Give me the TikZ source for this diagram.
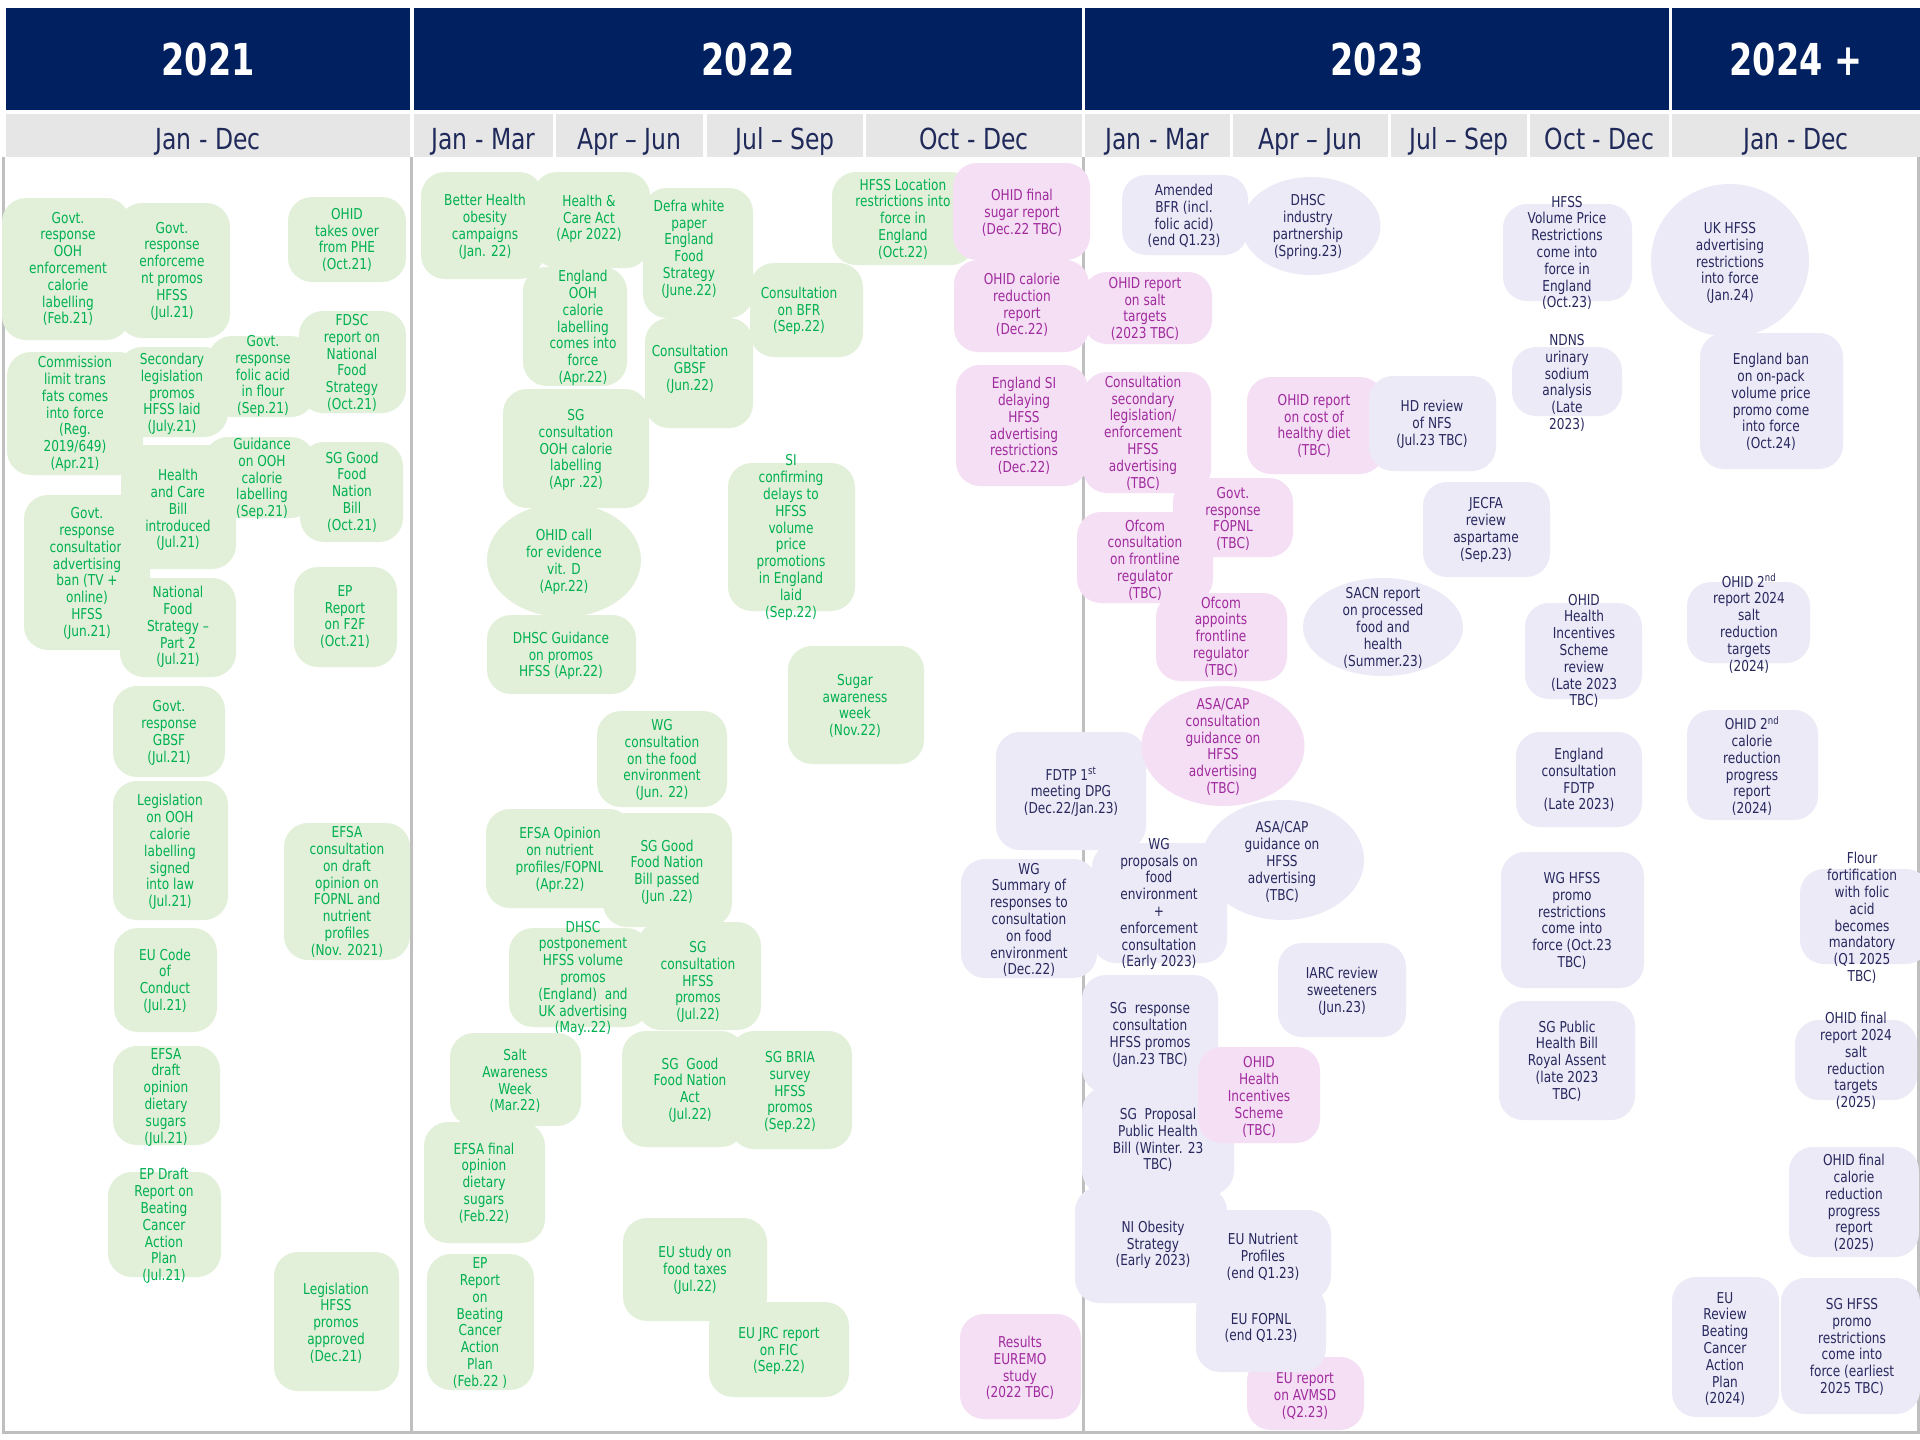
\documentclass[tikz,border=0pt]{standalone}
\usepackage{fontspec}
\setmainfont[FakeStretch=0.81]{DejaVu Sans}
\newfontfamily\hdrfont[FakeStretch=0.76]{DejaVu Sans}
\usetikzlibrary{shapes.geometric}
\definecolor{navy}{HTML}{002060}
\definecolor{hgray}{HTML}{E7E6E6}
\definecolor{sgray}{HTML}{BFBFBF}
\definecolor{subtxt}{HTML}{1F2A5A}
\definecolor{gfill}{HTML}{E2F0D9}
\definecolor{gtext}{HTML}{00B050}
\definecolor{pfill}{HTML}{F5DFF4}
\definecolor{ptext}{HTML}{A02B9E}
\definecolor{lfill}{HTML}{ECEAF7}
\definecolor{ltext}{HTML}{28285E}
\newcommand\evbox[6]{\node[#1, minimum width=#5pt, minimum height=#6pt] (#2) at (#3,#4) {};}
\newcommand\evtxt[5]{\node[#1] (#2) at (#3,#4) {#5};}
\begin{document}
\begin{tikzpicture}[x=1pt, y=-1pt,
  gbox/.style={rectangle, rounded corners=24pt, fill=gfill, inner sep=0pt},
  pbox/.style={rectangle, rounded corners=24pt, fill=pfill, inner sep=0pt},
  lbox/.style={rectangle, rounded corners=24pt, fill=lfill, inner sep=0pt},
  gell/.style={ellipse, fill=gfill, inner sep=0pt},
  pell/.style={ellipse, fill=pfill, inner sep=0pt},
  lell/.style={ellipse, fill=lfill, inner sep=0pt},
  txt/.style={align=center, inner sep=0pt, font=\fontsize{15}{16.8}\selectfont},
  gtxt/.style={txt, text=gtext},
  ptxt/.style={txt, text=ptext},
  ltxt/.style={txt, text=ltext},
  yhdr/.style={rectangle, fill=navy, text=white, inner sep=0pt, minimum height=102pt, font=\hdrfont\bfseries\fontsize{44}{50}\selectfont},
  qhdr/.style={rectangle, fill=hgray, text=subtxt, inner sep=0pt, minimum height=43pt, text height=34pt, text depth=6.8pt, font=\fontsize{29}{32}\selectfont},
  sepline/.style={draw=sgray, line width=3pt}
]
\useasboundingbox (0,0) rectangle (1920,1440);
\clip (0,0) rectangle (1920,1440);
\fill[white] (0,0) rectangle (1920,1440);

% ---------- headers ----------
\node[yhdr, minimum width=404pt] (y2021) at (208,59) {2021};
\node[yhdr, minimum width=668pt] (y2022) at (748,59) {2022};
\node[yhdr, minimum width=584pt] (y2023) at (1377,59) {2023};
\node[yhdr, minimum width=248pt] (y2024) at (1796,59) {2024 +};

\node[qhdr, minimum width=404pt] (q21) at (208,135.5) {Jan - Dec};
\node[qhdr, minimum width=139pt] (q221) at (483.5,135.5) {Jan - Mar};
\node[qhdr, minimum width=147pt] (q222) at (629.5,135.5) {Apr – Jun};
\node[qhdr, minimum width=156pt] (q223) at (785,135.5) {Jul – Sep};
\node[qhdr, minimum width=216pt] (q224) at (974,135.5) {Oct - Dec};
\node[qhdr, minimum width=145pt] (q231) at (1157.5,135.5) {Jan - Mar};
\node[qhdr, minimum width=155pt] (q232) at (1310.5,135.5) {Apr – Jun};
\node[qhdr, minimum width=136pt] (q233) at (1459,135.5) {Jul – Sep};
\node[qhdr, minimum width=139pt] (q234) at (1599.5,135.5) {Oct - Dec};
\node[qhdr, minimum width=248pt] (q24) at (1796,135.5) {Jan - Dec};

% ---------- frame lines ----------
\draw[sepline] (3.5,157) -- (3.5,1432) -- (1918.5,1432) -- (1918.5,157);
\draw[sepline] (411.5,157) -- (411.5,1432);
\draw[sepline] (1083.5,157) -- (1083.5,1432);

% ---------- 2021 ----------
\evbox{gbox}{b2}{174}{270.5}{112}{135}
\evtxt{gtxt}{t2}{172}{271}{Govt.\\response\\enforceme\\nt promos\\HFSS\\(Jul.21)}
\evbox{gbox}{b1}{66}{269}{128}{142}
\evtxt{gtxt}{t1}{68}{269}{Govt.\\response\\OOH\\enforcement\\calorie\\labelling\\(Feb.21)}
\evbox{gbox}{b3}{347}{239.5}{118}{85}
\evtxt{gtxt}{t3}{347}{240}{OHID\\takes over\\from PHE\\(Oct.21)}
\evbox{gbox}{b6}{75}{413.5}{136}{123}
\evtxt{gtxt}{t6}{75}{414}{Commission\\limit trans\\fats comes\\into force\\(Reg.\\2019/649)\\(Apr.21)}
\evbox{gbox}{b7}{173}{392}{110}{90}
\evtxt{gtxt}{t7}{172}{394}{Secondary\\legislation\\promos\\HFSS laid\\(July.21)}
\evbox{gbox}{b5}{261.5}{376.5}{107}{81}
\evtxt{gtxt}{t5}{263}{376}{Govt.\\response\\folic acid\\in flour\\(Sep.21)}
\evbox{gbox}{b4}{352.5}{362}{107}{102}
\evtxt{gtxt}{t4}{352}{363}{FDSC\\report on\\National\\Food\\Strategy\\(Oct.21)}
\evbox{gbox}{b11}{87}{572.5}{126}{155}
\evtxt{gtxt}{t11}{87}{573.5}{Govt.\\response\\consultation\\advertising\\ban (TV +\\online)\\HFSS\\(Jun.21)}
\evbox{gbox}{b10}{178.5}{507}{115}{124}
\evtxt{gtxt}{t10}{178}{510}{Health\\and Care\\Bill\\introduced\\(Jul.21)}
\evbox{gbox}{b8}{259.5}{477.5}{111}{81}
\evtxt{gtxt}{t8}{262}{479}{Guidance\\on OOH\\calorie\\labelling\\(Sep.21)}
\evbox{gbox}{b9}{351.5}{492}{103}{100}
\evtxt{gtxt}{t9}{352}{492}{SG Good\\Food\\Nation\\Bill\\(Oct.21)}
\evbox{gbox}{b12}{178}{627.5}{116}{99}
\evtxt{gtxt}{t12}{178}{627}{National\\Food\\Strategy –\\Part 2\\(Jul.21)}
\evbox{gbox}{b13}{345.5}{617}{103}{100}
\evtxt{gtxt}{t13}{345}{617}{EP\\Report\\on F2F\\(Oct.21)}
\evbox{gbox}{b14}{169}{731.5}{112}{91}
\evtxt{gtxt}{t14}{169}{733}{Govt.\\response\\GBSF\\(Jul.21)}
\evbox{gbox}{b15}{170.5}{850.5}{115}{139}
\evtxt{gtxt}{t15}{170}{852}{Legislation\\on OOH\\calorie\\labelling\\signed\\into law\\(Jul.21)}
\evbox{gbox}{b16}{347}{891.5}{126}{137}
\evtxt{gtxt}{t16}{347}{892}{EFSA\\consultation\\on draft\\opinion on\\FOPNL and\\nutrient\\profiles\\(Nov. 2021)}
\evbox{gbox}{b17}{165.5}{980}{103}{104}
\evtxt{gtxt}{t17}{165}{981}{EU Code\\of\\Conduct\\(Jul.21)}
\evbox{gbox}{b18}{166.5}{1095.5}{107}{99}
\evtxt{gtxt}{t18}{166}{1097}{EFSA\\draft\\opinion\\dietary\\sugars\\(Jul.21)}
\evbox{gbox}{b19}{164.5}{1224.5}{113}{105}
\evtxt{gtxt}{t19}{164}{1226}{EP Draft\\Report on\\Beating\\Cancer\\Action\\Plan\\(Jul.21)}
\evbox{gbox}{b20}{336.5}{1321.5}{125}{139}
\evtxt{gtxt}{t20}{336}{1323}{Legislation\\HFSS\\promos\\approved\\(Dec.21)}

% ---------- 2022 ----------
\evbox{gbox}{c2}{591.5}{220}{117}{96}
\evtxt{gtxt}{u2}{589}{219}{Health \&\\Care Act\\(Apr 2022)}
\evbox{gbox}{c3}{575}{326.5}{104}{119}
\evtxt{gtxt}{u3}{583}{328}{England\\OOH\\calorie\\labelling\\comes into\\force\\(Apr.22)}
\evbox{gbox}{c1}{482}{225.5}{122}{107}
\evtxt{gtxt}{u1}{485}{227}{Better Health\\obesity\\campaigns\\(Jan. 22)}
\evbox{gbox}{c4}{698}{253}{110}{130}
\evtxt{gtxt}{u4}{689}{249}{Defra white\\paper\\England\\Food\\Strategy\\(June.22)}
\evbox{gbox}{c5}{699}{373}{108}{110}
\evtxt{gtxt}{u5}{690}{369}{Consultation\\GBSF\\(Jun.22)}
\evbox{gbox}{c6}{806.5}{310}{113}{94}
\evtxt{gtxt}{u6}{799}{311}{Consultation\\on BFR\\(Sep.22)}
\evbox{gbox}{c24}{903.5}{218.5}{143}{93}
\evtxt{gtxt}{u24}{903}{219}{HFSS Location\\restrictions into\\force in\\England\\(Oct.22)}
\evbox{gbox}{c7}{576}{448.5}{146}{119}
\evtxt{gtxt}{u7}{576}{450}{SG\\consultation\\OOH calorie\\labelling\\(Apr .22)}
\evbox{gell}{c8}{564}{560}{154}{114}
\evtxt{gtxt}{u8}{564}{562}{OHID call\\for evidence\\vit. D\\(Apr.22)}
\evbox{gbox}{c9}{791.5}{537}{127}{148}
\evtxt{gtxt}{u9}{791}{537.5}{SI\\confirming\\delays to\\HFSS\\volume\\price\\promotions\\in England\\laid\\(Sep.22)}
\evbox{gbox}{c10}{561.5}{654.5}{149}{79}
\evtxt{gtxt}{u10}{561}{656}{DHSC Guidance\\on promos\\HFSS (Apr.22)}
\evbox{gbox}{c11}{856}{705}{136}{118}
\evtxt{gtxt}{u11}{855}{706}{Sugar\\awareness\\week\\(Nov.22)}
\evbox{gbox}{c12}{662}{759}{130}{96}
\evtxt{gtxt}{u12}{662}{760}{WG\\consultation\\on the food\\environment\\(Jun. 22)}
\evbox{gbox}{c13}{559.5}{858.5}{147}{99}
\evtxt{gtxt}{u13}{560}{860}{EFSA Opinion\\on nutrient\\profiles/FOPNL\\(Apr.22)}
\evbox{gbox}{c14}{667.5}{870}{129}{114}
\evtxt{gtxt}{u14}{667}{872}{SG Good\\Food Nation\\Bill passed\\(Jun .22)}
\evbox{gbox}{c15}{579.5}{977.5}{141}{99}
\evtxt{gtxt}{u15}{583}{978.5}{DHSC\\postponement\\HFSS volume\\promos\\(England)~ and\\UK advertising\\(May..22)}
\evbox{gbox}{c16}{699}{976}{124}{108}
\evtxt{gtxt}{u16}{698}{982}{SG\\consultation\\HFSS\\promos\\(Jul.22)}
\evbox{gbox}{c17}{515.5}{1079.5}{131}{93}
\evtxt{gtxt}{u17}{515}{1081}{Salt\\Awareness\\Week\\(Mar.22)}
\evbox{gbox}{c18}{683.5}{1089}{123}{116}
\evtxt{gtxt}{u18}{690}{1090}{SG~ Good\\Food Nation\\Act\\(Jul.22)}
\evbox{gbox}{c19}{791}{1090}{122}{118}
\evtxt{gtxt}{u19}{790}{1092}{SG BRIA\\survey\\HFSS\\promos\\(Sep.22)}
\evbox{gbox}{c20}{484.5}{1182.5}{121}{121}
\evtxt{gtxt}{u20}{484}{1183}{EFSA final\\opinion\\dietary\\sugars\\(Feb.22)}
\evbox{gbox}{c21}{480.5}{1322}{107}{136}
\evtxt{gtxt}{u21}{480}{1323}{EP\\Report\\on\\Beating\\Cancer\\Action\\Plan\\(Feb.22 )}
\evbox{gbox}{c22}{695}{1269.5}{144}{103}
\evtxt{gtxt}{u22}{695}{1270}{EU study on\\food taxes\\(Jul.22)}
\evbox{gbox}{c23}{779}{1349.5}{140}{95}
\evtxt{gtxt}{u23}{779}{1351}{EU JRC report\\on FIC\\(Sep.22)}

% ---------- Oct-Dec 2022 pink / lavender ----------
\evbox{pbox}{p1}{1021.5}{211.5}{137}{97}
\evtxt{ptxt}{r1}{1022}{213}{OHID final\\sugar report\\(Dec.22 TBC)}
\evbox{pbox}{p2}{1021.5}{306}{135}{92}
\evtxt{ptxt}{r2}{1022}{305}{OHID calorie\\reduction\\report\\(Dec.22)}
\evbox{pbox}{p3}{1022}{425.5}{132}{121}
\evtxt{ptxt}{r3}{1024}{426}{England SI\\delaying\\HFSS\\advertising\\restrictions\\(Dec.22)}
\evbox{pbox}{p4}{1020.5}{1366.5}{121}{105}
\evtxt{ptxt}{r4}{1020}{1368}{Results\\EUREMO\\study\\(2022 TBC)}
\evbox{lbox}{l1}{1071}{791}{150}{118}
\evtxt{ltxt}{m1}{1071}{792}{FDTP 1\textsuperscript{st}\\meeting DPG\\(Dec.22/Jan.23)}
\evbox{lbox}{l2}{1029}{918.5}{136}{119}
\evtxt{ltxt}{m2}{1029}{920}{WG\\Summary of\\responses to\\consultation\\on food\\environment\\(Dec.22)}
\evbox{lbox}{l3}{1159.5}{903}{135}{120}
\evtxt{ltxt}{m3}{1159}{904}{WG\\proposals on\\food\\environment\\+\\enforcement\\consultation\\(Early 2023)}

% ---------- 2023 ----------
\evbox{lbox}{l4}{1185}{215}{126}{80}
\evtxt{ltxt}{m4}{1184}{216}{Amended\\BFR (incl.\\folic acid)\\(end Q1.23)}
\evbox{lell}{l5}{1311}{226}{139}{98}
\evtxt{ltxt}{m5}{1308}{227}{DHSC\\industry\\partnership\\(Spring.23)}
\evbox{pbox}{p5}{1147.5}{308}{129}{72}
\evtxt{ptxt}{r5}{1145}{309}{OHID report\\on salt\\targets\\(2023 TBC)}
\evbox{pbox}{p6}{1147}{432.5}{128}{121}
\evtxt{ptxt}{r6}{1143}{433}{Consultation\\secondary\\legislation/\\enforcement\\HFSS\\advertising\\(TBC)}
\evbox{pbox}{p7}{1315.5}{425.5}{137}{97}
\evtxt{ptxt}{r7}{1314}{426}{OHID report\\on cost of\\healthy diet\\(TBC)}
\evbox{lbox}{l15}{1432.5}{423.5}{127}{95}
\evtxt{ltxt}{m15}{1432}{424}{HD review\\of NFS\\(Jul.23 TBC)}
\evbox{pbox}{p8}{1233}{517.5}{120}{79}
\evtxt{ptxt}{r8}{1233}{519}{Govt.\\response\\FOPNL\\(TBC)}
\evbox{pbox}{p9}{1145}{557.5}{136}{91}
\evtxt{ptxt}{r9}{1145}{560}{Ofcom\\consultation\\on frontline\\regulator\\(TBC)}
\evbox{pbox}{p10}{1221.5}{637}{131}{88}
\evtxt{ptxt}{r10}{1221}{637}{Ofcom\\appoints\\frontline\\regulator\\(TBC)}
\evbox{lbox}{l16}{1486.5}{529.5}{127}{95}
\evtxt{ltxt}{m16}{1486}{530}{JECFA\\review\\aspartame\\(Sep.23)}
\evbox{lell}{l17}{1383}{627}{160}{98}
\evtxt{ltxt}{m17}{1383}{628}{SACN report\\on processed\\food and\\health\\(Summer.23)}
\evbox{pell}{p11}{1223}{746}{163}{120}
\evtxt{ptxt}{r11}{1223}{747}{ASA/CAP\\consultation\\guidance on\\HFSS\\advertising\\(TBC)}
\evbox{lell}{l6}{1283}{860}{162}{120}
\evtxt{ltxt}{m6}{1282}{862}{ASA/CAP\\guidance on\\HFSS\\advertising\\(TBC)}
\evbox{lbox}{l8}{1342}{990}{128}{94}
\evtxt{ltxt}{m8}{1342}{991}{IARC review\\sweeteners\\(Jun.23)}
\evbox{lbox}{l7}{1150}{1034}{136}{118}
\evtxt{ltxt}{m7}{1150}{1035}{SG~ response\\consultation\\HFSS promos\\(Jan.23 TBC)}
\evbox{lbox}{l9}{1158}{1141}{152}{108}
\evtxt{ltxt}{m9}{1158}{1140}{SG~ Proposal\\Public Health\\Bill (Winter. 23\\TBC)}
\evbox{pbox}{p12}{1259}{1095}{122}{96}
\evtxt{ptxt}{r12}{1259}{1097}{OHID\\Health\\Incentives\\Scheme\\(TBC)}
\evbox{lbox}{l11}{1265.5}{1255}{131}{90}
\evtxt{ltxt}{m11}{1263}{1257}{EU Nutrient\\Profiles\\(end Q1.23)}
\evbox{lbox}{l10}{1151}{1245}{152}{116}
\evtxt{ltxt}{m10}{1153}{1245}{NI Obesity\\Strategy\\(Early 2023)}
\evbox{pbox}{p13}{1305.5}{1393.5}{117}{73}
\evtxt{ptxt}{r13}{1305}{1396}{EU report\\on AVMSD\\(Q2.23)}
\evbox{lbox}{l12}{1261}{1328.5}{130}{87}
\evtxt{ltxt}{m12}{1261}{1328}{EU FOPNL\\(end Q1.23)}

\evbox{lbox}{l13}{1567.5}{252.5}{129}{97}
\evtxt{ltxt}{m13}{1567}{253}{HFSS\\Volume Price\\Restrictions\\come into\\force in\\England\\(Oct.23)}
\evbox{lbox}{l14}{1567}{381.5}{110}{69}
\evtxt{ltxt}{m14}{1567}{383}{NDNS\\urinary\\sodium\\analysis\\(Late\\2023)}
\evbox{lbox}{l18}{1583.5}{651}{117}{96}
\evtxt{ltxt}{m18}{1584}{651}{OHID\\Health\\Incentives\\Scheme\\review\\(Late 2023\\TBC)}
\evbox{lbox}{l19}{1579}{779.5}{126}{95}
\evtxt{ltxt}{m19}{1579}{780}{England\\consultation\\FDTP\\(Late 2023)}
\evbox{lbox}{l20}{1572.5}{920}{143}{136}
\evtxt{ltxt}{m20}{1572}{921}{WG HFSS\\promo\\restrictions\\come into\\force (Oct.23\\TBC)}
\evbox{lbox}{l21}{1567}{1060.5}{136}{119}
\evtxt{ltxt}{m21}{1567}{1061}{SG Public\\Health Bill\\Royal Assent\\(late 2023\\TBC)}

% ---------- 2024 + ----------
\evbox{lell}{l22}{1730}{260.5}{158}{153}
\evtxt{ltxt}{m22}{1730}{263}{UK HFSS\\advertising\\restrictions\\into force\\(Jan.24)}
\evbox{lbox}{l23}{1771.5}{401}{143}{136}
\evtxt{ltxt}{m23}{1771}{402}{England ban\\on on-pack\\volume price\\promo come\\into force\\(Oct.24)}
\evbox{lbox}{l24}{1748.5}{622.5}{123}{81}
\evtxt{ltxt}{m24}{1749}{623.5}{OHID 2\textsuperscript{nd}\\report 2024\\salt\\reduction\\targets\\(2024)}
\evbox{lbox}{l25}{1752.5}{765}{131}{110}
\evtxt{ltxt}{m25}{1752}{766}{OHID 2\textsuperscript{nd}\\calorie\\reduction\\progress\\report\\(2024)}
\evbox{lbox}{l26}{1865}{916.5}{130}{95}
\evtxt{ltxt}{m26}{1862}{918}{Flour\\fortification\\with folic\\acid\\becomes\\mandatory\\(Q1 2025\\TBC)}
\evbox{lbox}{l27}{1856}{1060}{122}{80}
\evtxt{ltxt}{m27}{1856}{1061}{OHID final\\report 2024\\salt\\reduction\\targets\\(2025)}
\evbox{lbox}{l28}{1854}{1202}{130}{110}
\evtxt{ltxt}{m28}{1854}{1203}{OHID final\\calorie\\reduction\\progress\\report\\(2025)}
\evbox{lbox}{l29}{1725.5}{1347}{107}{140}
\evtxt{ltxt}{m29}{1725}{1349}{EU\\Review\\Beating\\Cancer\\Action\\Plan\\(2024)}
\evbox{lbox}{l30}{1850.5}{1346}{139}{136}
\evtxt{ltxt}{m30}{1852}{1347}{SG HFSS\\promo\\restrictions\\come into\\force (earliest\\2025 TBC)}
\end{tikzpicture}
\end{document}
